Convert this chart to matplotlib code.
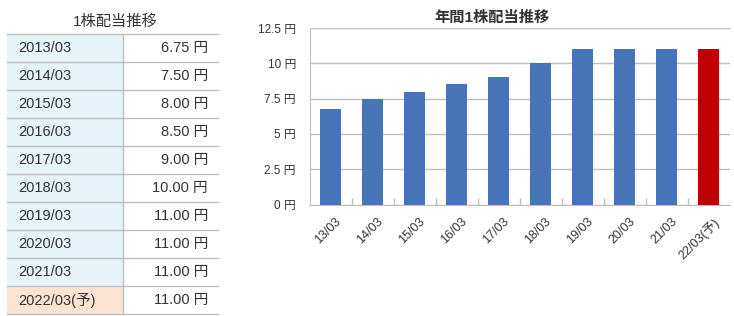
import matplotlib
matplotlib.use('Agg')
import matplotlib.pyplot as plt
from matplotlib.patches import Rectangle

plt.rcParams['font.family'] = ['Liberation Sans', 'Noto Sans CJK JP', 'DejaVu Sans']

# data
years = ['2013/03', '2014/03', '2015/03', '2016/03', '2017/03',
         '2018/03', '2019/03', '2020/03', '2021/03', '2022/03(予)']
labels = ['13/03', '14/03', '15/03', '16/03', '17/03',
          '18/03', '19/03', '20/03', '21/03', '22/03(予)']
dividends = [6.75, 7.50, 8.00, 8.50, 9.00, 10.00, 11.00, 11.00, 11.00, 11.00]
forecast = [False] * 9 + [True]
yticks = [0, 2.5, 5, 7.5, 10, 12.5]
ytick_labels = ['0 円', '2.5 円', '5 円', '7.5 円', '10 円', '12.5 円']

blue = '#4674b7'
red = '#bf0000'
grid = '#bfbfbf'
txt = '#333333'

W, H = 734, 316
fig = plt.figure(figsize=(W / 100, H / 100), dpi=100)

# --- table on the left (pixel coordinates) ---
tab = fig.add_axes([0, 0, 1, 1])
tab.set_xlim(0, W)
tab.set_ylim(H, 0)
tab.axis('off')

x0, xm, x1 = 7, 123, 218
top, rh = 34, 28
tab.text(115, 22, '1株配当推移', ha='center', va='center',
         fontsize=11, color=txt)
for i, (yr, v) in enumerate(zip(years, dividends)):
    y = top + i * rh
    fc = '#fde4d2' if forecast[i] else '#e6f3f8'
    tab.add_patch(Rectangle((x0, y), xm - x0, rh, facecolor=fc, edgecolor='none'))
    tab.text(18, y + rh / 2, yr, ha='left', va='center', fontsize=10.5, color=txt)
    tab.text(208, y + rh / 2, '{:.2f} 円'.format(v), ha='right', va='center',
             fontsize=10.5, color=txt)
    tab.plot([x0, x1], [y, y], color=grid, lw=1)
tab.plot([x0, x1], [top + len(years) * rh] * 2, color=grid, lw=1)
tab.plot([xm, xm], [top, top + len(years) * rh], color=grid, lw=1)

# --- bar chart on the right ---
ax = fig.add_axes([309.7 / W, 1 - 204.5 / H, 420 / W, 176.5 / H])
x = range(len(labels))
colors = [red if f else blue for f in forecast]
ax.bar(x, dividends, width=0.5, color=colors, zorder=3)
ax.set_xlim(-0.5, len(labels) - 0.5)
ax.set_ylim(0, 12.5)
ax.set_yticks(yticks)
ax.set_yticklabels(ytick_labels, fontsize=8.5, color=txt)
ax.tick_params(axis='y', length=0, pad=10)
ax.yaxis.grid(True, color=grid, lw=1, zorder=0)

ax.set_xticks([i + 0.5 for i in range(len(labels) - 1)], minor=False)
ax.set_xticklabels([])
ax.tick_params(axis='x', direction='in', length=5, color=grid, width=1)
for i, lab in enumerate(labels):
    ax.annotate(lab, xy=(i, 0), xycoords='data', xytext=(3, -8),
                textcoords='offset points', rotation=45, ha='right', va='top',
                rotation_mode='anchor', fontsize=9, color=txt)

for s in ['top', 'right']:
    ax.spines[s].set_visible(False)
for s in ['left', 'bottom']:
    ax.spines[s].set_color(grid)

fig.text(492 / W, 1 - 18 / H, '年間1株配当推移', ha='center', va='center',
         fontsize=11, fontweight='bold', color=txt)

fig.savefig('out.png', dpi=100)
